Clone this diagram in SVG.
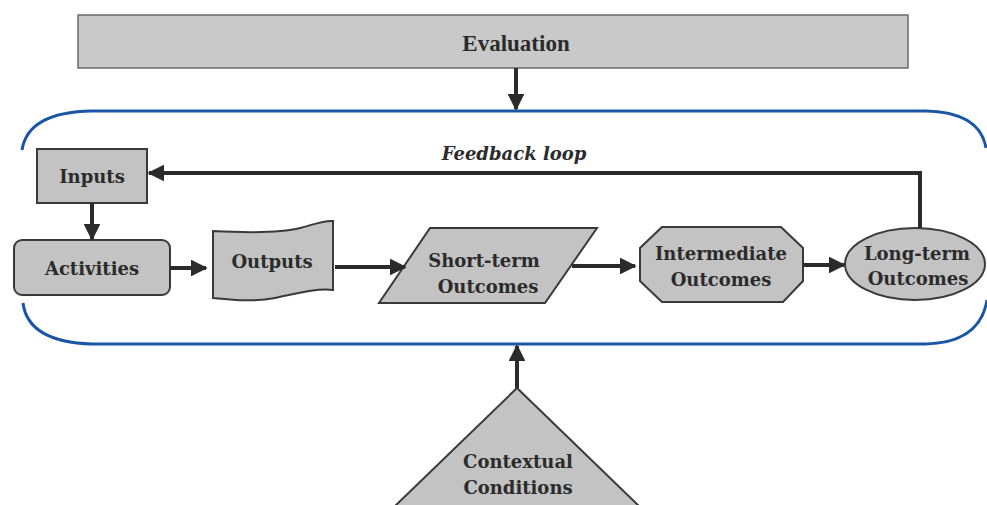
<svg xmlns="http://www.w3.org/2000/svg" width="987" height="505" viewBox="0 0 987 505">
  <style>
    .shape { fill: #c3c3c3; stroke: #3a3a3a; stroke-width: 2; }
    .lbl { font-family: "DejaVu Serif", "Liberation Serif", serif; font-weight: bold; font-size: 18px; fill: #2b2b2b; text-anchor: middle; }
    .conn { stroke: #2b2b2b; stroke-width: 4; fill: none; }
    .loop { stroke: #1b56a6; stroke-width: 3; fill: none; }
  </style>
  <defs>
    <marker id="arrow" viewBox="0 0 10 10" refX="9" refY="5" markerWidth="4.2" markerHeight="4.2" orient="auto" markerUnits="strokeWidth">
      <path d="M0,0 L10,5 L0,10 z" fill="#2b2b2b"/>
    </marker>
  </defs>

  <!-- program boundary (open at both sides) -->
  <g id="boundary">
    <path class="loop" d="M22,150 Q28,112 92,111 L925,111 Q980,112 986,148"/>
    <path class="loop" d="M23,303 Q28,342 92,344 L925,344 Q980,343 987,300"/>
  </g>

  <g id="evaluation">
    <rect x="78" y="15" width="830" height="53" fill="#c9c9c9" stroke="#6a6a6a" stroke-width="1.5"/>
    <text x="516" y="51" font-family="'Liberation Serif', serif" font-weight="bold" font-size="23" fill="#2b2b2b" text-anchor="middle">Evaluation</text>
  </g>

  <g id="inputs">
    <rect class="shape" x="37" y="149" width="110" height="54"/>
    <text class="lbl" x="92" y="183">Inputs</text>
  </g>

  <g id="activities">
    <rect class="shape" x="14" y="240" width="156" height="55" rx="8"/>
    <text class="lbl" x="92" y="275">Activities</text>
  </g>

  <g id="outputs">
    <path class="shape" d="M213,231 C250,233 280,233 300,228 C315,224 325,220 333,221 L333,290 C315,288 295,294 275,298 C255,302 235,300 213,298 Z"/>
    <text class="lbl" x="272" y="268">Outputs</text>
  </g>

  <g id="short-term">
    <polygon class="shape" points="430,228 597,228 545,303 379,303"/>
    <text class="lbl" x="484" y="267">Short-term</text>
    <text class="lbl" x="488" y="293">Outcomes</text>
  </g>

  <g id="intermediate">
    <polygon class="shape" points="662,227 781,227 803,248 803,281 783,302 662,302 640,281 640,248"/>
    <text class="lbl" x="721" y="260">Intermediate</text>
    <text class="lbl" x="721" y="286">Outcomes</text>
  </g>

  <g id="long-term">
    <ellipse class="shape" cx="915" cy="264" rx="70" ry="36"/>
    <text class="lbl" x="917" y="260">Long-term</text>
    <text class="lbl" x="918" y="285">Outcomes</text>
  </g>

  <g id="contextual">
    <polygon class="shape" points="517,388 640,507 394,507"/>
    <text class="lbl" x="518" y="468">Contextual</text>
    <text class="lbl" x="518" y="494">Conditions</text>
  </g>

  <g id="feedback-label">
    <text x="514" y="160" font-family="'DejaVu Serif', 'Liberation Serif', serif" font-weight="bold" font-style="italic" font-size="18" fill="#2b2b2b" text-anchor="middle">Feedback loop</text>
  </g>

  <g id="connectors">
    <line class="conn" x1="516" y1="68" x2="516" y2="109" marker-end="url(#arrow)"/>
    <line class="conn" x1="517" y1="388" x2="517" y2="346" marker-end="url(#arrow)"/>
    <line class="conn" x1="92" y1="203" x2="92" y2="239" marker-end="url(#arrow)"/>
    <line class="conn" x1="170" y1="268" x2="206" y2="268" marker-end="url(#arrow)"/>
    <line class="conn" x1="335" y1="267" x2="405" y2="267" marker-end="url(#arrow)"/>
    <line class="conn" x1="572" y1="266" x2="635" y2="266" marker-end="url(#arrow)"/>
    <line class="conn" x1="803" y1="265" x2="844" y2="265" marker-end="url(#arrow)"/>
    <polyline class="conn" points="920,228 920,173 149,173" marker-end="url(#arrow)"/>
  </g>
</svg>
